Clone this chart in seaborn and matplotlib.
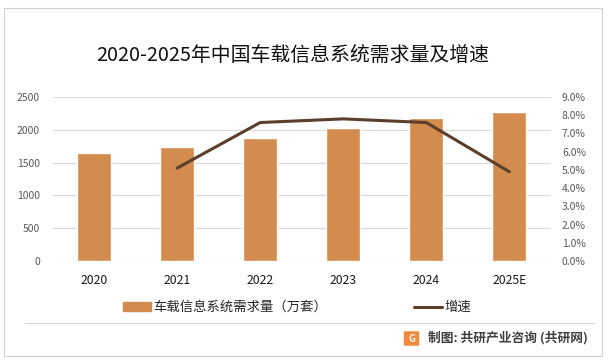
import matplotlib
matplotlib.use("Agg")
import matplotlib.pyplot as plt
import matplotlib.patches as mpatches
from matplotlib.lines import Line2D
import numpy as np
import pandas as pd
import seaborn as sns

years = ["2020", "2021", "2022", "2023", "2024", "2025E"]
demand = [1650, 1731, 1869, 2021, 2174, 2276]          # 万套
growth = [np.nan, 0.051, 0.076, 0.078, 0.076, 0.049]   # 增速

title = "2020-2025年中国车载信息系统需求量及增速"
bar_label = "车载信息系统需求量（万套）"
line_label = "增速"
source = "制图: 共研产业咨询 (共研网)"

sns.set_theme(style="white")
plt.rcParams["font.family"] = ["Noto Sans CJK SC", "DejaVu Sans"]

BAR_C = "#D38B4E"
LINE_C = "#5B3F2C"
GRID_C = "#D9D9D9"
TICK_C = "#595959"

df = pd.DataFrame({"year": years, "demand": demand, "growth": growth,
                   "pos": range(len(years))})

fig = plt.figure(figsize=(6.08, 3.62), dpi=100)
ax = fig.add_axes([0.0865, 0.279, 0.8195, 0.453])

sns.barplot(data=df, x="year", y="demand", color=BAR_C, width=0.41,
            saturation=1, ax=ax, zorder=2)
ax.set_xlim(-0.5, len(years) - 0.5)
ax.set_ylim(0, 2500)
ax.set_yticks(range(0, 2501, 500))
ax.set_xlabel("")
ax.set_ylabel("")
ax.grid(axis="y", color=GRID_C, linewidth=0.8, zorder=0)
ax.set_axisbelow(True)
for s in ax.spines.values():
    s.set_visible(False)
ax.tick_params(axis="y", length=0, pad=9, labelsize=7.5, labelcolor=TICK_C)
ax.tick_params(axis="x", length=0, pad=9, labelsize=8.8, labelcolor="#1a1a1a")

ax2 = ax.twinx()
sns.lineplot(data=df.dropna(), x="pos", y="growth", color=LINE_C,
             linewidth=2.2, ax=ax2, zorder=3)
ax2.set_ylim(0, 0.09)
ax2.set_yticks(np.arange(0, 0.0901, 0.01))
ax2.set_yticklabels([f"{v*100:.1f}%" for v in np.arange(0, 0.0901, 0.01)])
ax2.set_ylabel("")
ax2.set_xlabel("")
ax2.set_xlim(-0.5, len(years) - 0.5)
for s in ax2.spines.values():
    s.set_visible(False)
ax2.tick_params(axis="y", length=0, pad=8, labelsize=7.5, labelcolor=TICK_C)
ax2.grid(False)

fig.text(0.482, 1 - 55 / 362, title, ha="center", va="center",
         fontsize=14.3, color="#111111", fontweight="normal")

handles = [mpatches.Patch(color=BAR_C, label=bar_label),
           Line2D([0], [0], color=LINE_C, linewidth=2.2, label=line_label)]
fig.legend(handles=handles, loc="center", bbox_to_anchor=(297 / 608, 1 - 307 / 362),
           ncol=2, frameon=False, fontsize=9.6, handlelength=2.1,
           handletextpad=0.2, columnspacing=6.5, handleheight=0.6)

# separator line and outer frame
fig.add_artist(Line2D([25 / 608, 594 / 608], [1 - 323 / 362, 1 - 323 / 362],
                      color="#D9D9D9", linewidth=0.8, transform=fig.transFigure))
fig.add_artist(mpatches.Rectangle((4 / 608, 1 - 356 / 362), 598 / 608, 348 / 362,
                                  fill=False, edgecolor="#D0D0D0", linewidth=0.8,
                                  transform=fig.transFigure))

# source logo + text
fig.add_artist(mpatches.FancyBboxPatch((405 / 608, 1 - 345 / 362), 13 / 608, 13 / 362,
                                       boxstyle="round,pad=0.002",
                                       facecolor="#F08A3C", edgecolor="none",
                                       transform=fig.transFigure))
fig.text(411.5 / 608, 1 - 338.5 / 362, "G", ha="center", va="center",
         fontsize=7, color="white", fontweight="bold")
fig.text(428 / 608, 1 - 338 / 362, source, ha="left", va="center",
         fontsize=9.2, color="#404040", fontweight="bold")

fig.savefig("out.png", dpi=100)
